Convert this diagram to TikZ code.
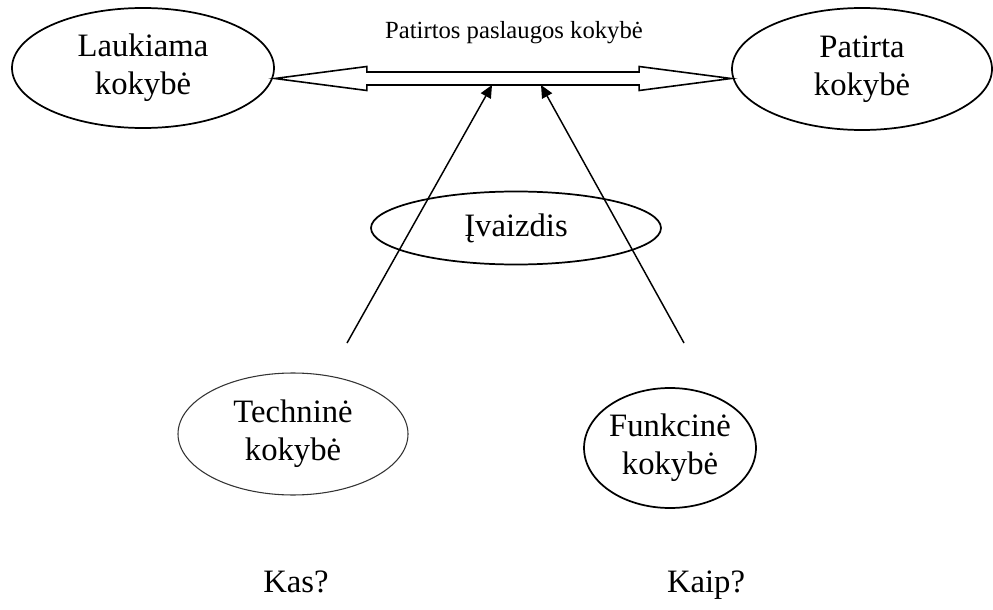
\documentclass[tikz,border=0pt]{standalone}
\usepackage{fontspec}
\setmainfont{Liberation Serif}
\usetikzlibrary{
arrows.meta,
calc,
positioning,
shapes
}
\tikzset{>={Triangle[length=9.5pt,width=8.5pt]}}
\tikzset{
	oval/.style={draw,ellipse,line width=1.3pt,inner sep=0,align=center,
		font=\fontsize{24.5}{28.5}\selectfont},
	thinoval/.style={oval,line width=0.8pt,draw=black!80},
	label/.style={inner sep=0,anchor=base,font=\fontsize{24.5}{28.5}\selectfont}
}

\begin{document}
\begin{tikzpicture}[x=0.75pt,y=-0.75pt]
		\useasboundingbox (0,0) rectangle (993,610);

		\node[oval,minimum width=196.5pt,minimum height=90pt] (laukiama) at (143,68) {Laukiama\\kokybė};
		\node[oval,minimum width=195pt,minimum height=91.5pt] (patirta) at (862,69) {Patirta\\kokybė};
		\node[inner sep=0,font=\fontsize{18.5}{22}\selectfont] (title) at (514,33) {Patirtos paslaugos kokybė};

		\node[oval,minimum width=217.5pt,minimum height=54.75pt] (ivaizdis) at (516,228) {Įvaizdis};

		\node[thinoval,minimum width=172.5pt,minimum height=91.5pt] (technine) at (293,434) {Techninė\\kokybė};
		\node[oval,minimum width=126pt,minimum height=90pt] (funkcine) at (670,448) {Funkcinė\\kokybė};

		\node[label] (kas) at (296,592) {Kas?};
		\node[label] (kaip) at (706,592) {Kaip?};

		% hollow double arrow between the two qualities
		\coordinate (ltip) at (laukiama.east |- 0,78.5);
		\coordinate (rtip) at (patirta.west |- 0,78.5);
		\draw[line width=1.2pt,line join=miter]
			(ltip) -- ++(92,-12) -- ++(0,5.5) -- ($(rtip)+(-92,-6.5)$) -- ++(0,-5.5) -- (rtip)
			-- ++(-92,12) -- ++(0,-5.5) -- ($(ltip)+(92,6.5)$) -- ++(0,5.5) -- cycle;

		% technical and functional quality feed in
		\coordinate (techtop) at (347,343);
		\coordinate (funktop) at (684,343);
		\coordinate (inleft) at (492,85);
		\coordinate (inright) at (541,85);
		\draw[->,line width=1.1pt] (techtop) -- (inleft);
		\draw[->,line width=1.1pt] (funktop) -- (inright);
	\end{tikzpicture}
\end{document}
